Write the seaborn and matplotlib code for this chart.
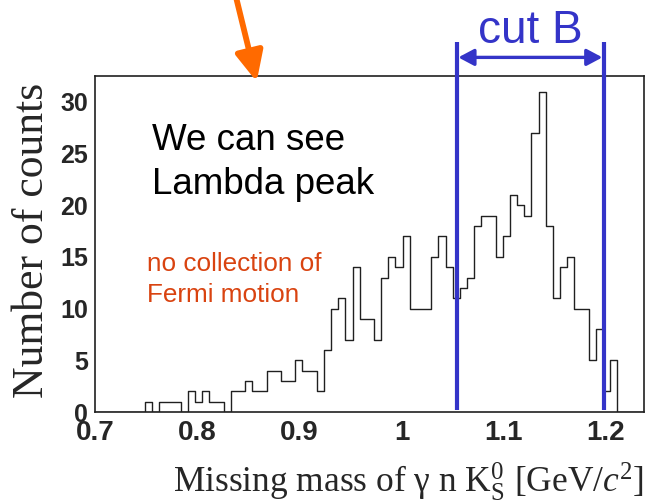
import numpy as np
import pandas as pd
import seaborn as sns
import matplotlib
matplotlib.use("Agg")
import matplotlib.pyplot as plt
from matplotlib.ticker import MultipleLocator

# ---- data ----
bin_start = 0.700
bin_width = 0.007
counts = [0, 0, 0, 0, 0, 0, 0, 1, 0, 1,
          1, 1, 0, 2, 1, 2, 1, 1, 0, 2,
          2, 3, 2, 2, 4, 4, 3, 3, 5, 4,
          4, 2, 6, 10, 11, 7, 14, 9, 9, 7,
          13, 15, 14, 17, 10, 10, 10, 15, 17, 14,
          11, 12, 13, 18, 19, 19, 15, 17, 21, 20,
          19, 27, 31, 18, 11, 14, 15, 10, 10, 5,
          8, 2, 5, 0, 0, 0, 0]
cut_lo = 1.054
cut_hi = 1.198
x_ticks = [0.7, 0.8, 0.9, 1.0, 1.1, 1.2]
x_tick_labels = ["0.7", "0.8", "0.9", "1", "1.1", "1.2"]
y_ticks = [0, 5, 10, 15, 20, 25, 30]

edges = [float(v) for v in bin_start + bin_width * np.arange(len(counts) + 1)]
centers = [0.5 * (a + b) for a, b in zip(edges[:-1], edges[1:])]
df = pd.DataFrame({"mass": centers, "n": counts})

# ---- style ----
sns.set_style("white")
plt.rcParams["font.family"] = ["Liberation Sans", "DejaVu Sans"]
plt.rcParams["mathtext.fontset"] = "custom"
plt.rcParams["mathtext.rm"] = "Liberation Serif"
plt.rcParams["mathtext.it"] = "Liberation Serif:italic"
plt.rcParams["mathtext.bf"] = "Liberation Serif:bold"

fig = plt.figure(figsize=(6.46, 5.04), dpi=100)
ax = fig.add_axes([95 / 646, 1 - 412 / 504, 549 / 646, 336 / 504])

sns.histplot(data=df, x="mass", weights="n", bins=edges, element="step",
             fill=False, color="#202020", linewidth=1.0, ax=ax)

ax.set_xlim(0.7, 1.2372)
ax.set_ylim(0, 32.5)

for s in ax.spines.values():
    s.set_color("#202020")
    s.set_linewidth(1.2)

ax.set_xticks(x_ticks)
ax.set_xticklabels(x_tick_labels)
ax.set_yticks(y_ticks)
ax.xaxis.set_minor_locator(MultipleLocator(0.02))
ax.yaxis.set_minor_locator(MultipleLocator(1))
ax.tick_params(which="both", direction="in", color="#202020", width=0.9,
               top=False, right=False)
ax.tick_params(which="major", length=9.5)
ax.tick_params(which="minor", length=4.8)
ax.tick_params(axis="x", which="major", pad=5.5, labelsize=20)
ax.tick_params(axis="y", which="major", pad=5, labelsize=18)
for lab in ax.get_xticklabels() + ax.get_yticklabels():
    lab.set_fontweight("bold")

serif = ["Liberation Serif", "DejaVu Serif"]
ax.set_xlabel("Missing mass of γ n K$^{0}_{\\mathrm{S}}$ [GeV/$c^{2}$]",
              family=serif, fontsize=25.5, loc="right", labelpad=11)
ax.set_ylabel("Number of counts", family=serif, fontsize=31.5)
ax.yaxis.set_label_coords(-0.079, 0.51)

# annotations
ax.text(0.7555, 25.3, "We can see", fontsize=26.5, color="black")
ax.text(0.7555, 21.1, "Lambda peak", fontsize=26.5, color="black")
red = "#d94310"
ax.text(0.7506, 13.6, "no collection of", fontsize=18.8, color=red)
ax.text(0.7506, 10.6, "Fermi motion", fontsize=18.8, color=red)

blue = "#3434c8"
for xc in (cut_lo, cut_hi):
    ax.plot([xc, xc], [0.15, 35.8], color=blue, lw=3.0, clip_on=False,
            solid_capstyle="butt", zorder=5)
ax.annotate("", xy=(cut_hi - 0.0015, 34.3), xytext=(cut_lo + 0.0015, 34.3),
            arrowprops=dict(arrowstyle="<|-|>,head_length=0.47,head_width=0.25",
                            color=blue, lw=2.4, shrinkA=0, shrinkB=0,
                            mutation_scale=20),
            annotation_clip=False)
ax.text(0.5 * (cut_lo + cut_hi), 35.7, "cut B", fontsize=33, color=blue,
        ha="center", va="baseline", clip_on=False)

# orange arrow from the top
ax.annotate("", xy=(256.7 / 646, 1 - 81.7 / 504), xycoords="figure fraction",
            xytext=(235.5 / 646, 1.01), textcoords="figure fraction",
            arrowprops=dict(arrowstyle="-|>,head_length=0.9,head_width=0.42",
                            color="#ff6a00", lw=4.2, shrinkA=0, shrinkB=0,
                            mutation_scale=20),
            annotation_clip=False)

fig.savefig("out.png", dpi=100)
